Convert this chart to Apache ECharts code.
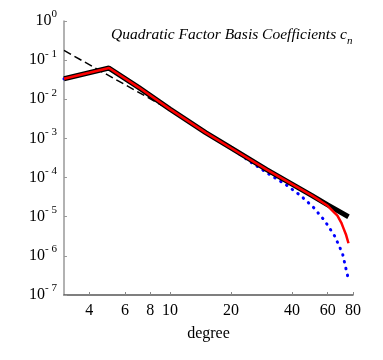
<!DOCTYPE html>
<html>
<head>
<meta charset="utf-8">
<script src="https://cdn.jsdelivr.net/npm/echarts@6/dist/echarts.min.js"></script>
<style>html,body{margin:0;padding:0;background:#fff;}#c{width:383px;height:360px;}</style>
</head>
<body>
<div id="c"></div>
<script>
const xTicks = [4, 6, 8, 10, 20, 40, 60, 80];
const dashDeg = [3, 12];
const dashVal = [0.177, 3.15e-3];
const blackDeg = [3, 5, 7, 10, 15, 20, 30, 40, 50, 60, 76];
const blackVal = [0.0334, 0.0628, 0.0202, 5.6e-3, 1.41e-3, 5.7e-4, 1.6e-4, 6.8e-5, 3.5e-5, 2.0e-5, 1.0e-5];
const redDeg = [3, 5, 7, 10, 15, 20, 30, 40, 50, 55, 60, 64, 67, 70, 72, 74, 76];
const redVal = [0.0334, 0.0628, 0.0202, 5.6e-3, 1.41e-3, 5.7e-4, 1.6e-4, 6.8e-5, 3.5e-5, 2.57e-5, 1.9e-5, 1.35e-5, 1.07e-5, 7.1e-6, 4.9e-6, 3.4e-6, 2.1e-6];
const blueDeg = [3, 5, 7, 10, 15, 20, 25, 31, 37, 44, 51, 58, 65, 71, 74, 76];
const blueVal = [0.0334, 0.0628, 0.0202, 5.6e-3, 1.41e-3, 5.7e-4, 2.5e-4, 1.2e-4, 6.8e-5, 3.5e-5, 1.74e-5, 7.9e-6, 3.2e-6, 1.15e-6, 4.5e-7, 2.5e-7];

const pairs = (xs, ys) => xs.map((x, i) => [x, ys[i]]);
const serif = 'Liberation Serif';

const chart = echarts.init(document.getElementById('c'), null, {renderer: 'canvas'});
chart.setOption({
  animation: false,
  backgroundColor: '#fff',
  textStyle: {fontFamily: serif, fontWeight: 'normal'},
  title: {
    text: '{t|Quadratic Factor Basis Coefficients c}{s|n}',
    left: 106, top: 22,
    textStyle: {
      fontFamily: serif, fontWeight: 'normal',
      rich: {
        t: {fontFamily: serif, fontStyle: 'italic', fontWeight: 'normal', fontSize: 15.5, color: '#000', lineHeight: 20, verticalAlign: 'top'},
        s: {fontFamily: serif, fontStyle: 'italic', fontWeight: 'normal', fontSize: 11, color: '#000', lineHeight: 10, verticalAlign: 'bottom'}
      }
    }
  },
  grid: {left: 64, right: 30, top: 21, bottom: 65, containLabel: false},
  xAxis: {
    type: 'log', logBase: 10, min: 3, max: 80,
    name: 'degree', nameLocation: 'middle', nameGap: 31,
    nameTextStyle: {fontFamily: serif, fontSize: 16, color: '#000'},
    axisLine: {show: true, onZero: false, lineStyle: {color: '#555', width: 1.5}},
    axisTick: {show: true, inside: true, length: 3, customValues: xTicks, lineStyle: {color: '#888'}},
    axisLabel: {customValues: xTicks, fontFamily: serif, fontSize: 16, color: '#000', margin: 8, formatter: v => String(v)},
    splitLine: {show: false}
  },
  yAxis: {
    type: 'log', logBase: 10, min: 1e-7, max: 1,
    axisLine: {show: true, lineStyle: {color: '#999', width: 1.5}},
    axisTick: {show: true, inside: true, length: 3, lineStyle: {color: '#999'}},
    axisLabel: {
      margin: 7, fontFamily: serif,
      formatter: v => {
        const e = Math.round(Math.log10(v));
        const s = e < 0 ? '- ' + (-e) : String(e);
        return '{b|10}{s|' + s + '}';
      },
      rich: {
        b: {fontFamily: serif, fontSize: 16, color: '#000', lineHeight: 24},
        s: {fontFamily: serif, fontSize: 11, color: '#000', lineHeight: 12, verticalAlign: 'top'}
      }
    },
    splitLine: {show: false}
  },
  series: [
    {type: 'line', data: pairs(blueDeg, blueVal), showSymbol: false, symbol: 'none',
     lineStyle: {color: '#0000ff', width: 3, type: [0.5, 6.5], cap: 'round'}, z: 1},
    {type: 'line', data: pairs(dashDeg, dashVal), showSymbol: false, symbol: 'none',
     lineStyle: {color: '#000', width: 1.5, type: [8, 4]}, z: 2},
    {type: 'line', data: pairs(blackDeg, blackVal), showSymbol: false, symbol: 'none',
     lineStyle: {color: '#000', width: 5}, z: 3},
    {type: 'line', data: pairs(redDeg, redVal), showSymbol: false, symbol: 'none',
     lineStyle: {color: '#ff0000', width: 2.5}, z: 4}
  ]
});
</script>
</body>
</html>
